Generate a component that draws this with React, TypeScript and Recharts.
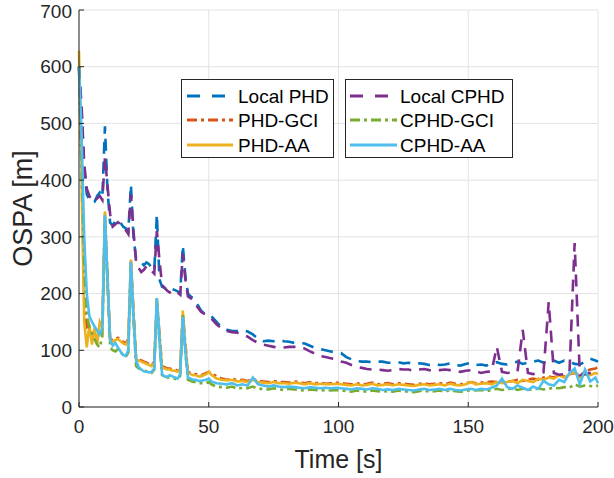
import React from 'react';
import { LineChart, Line, XAxis, YAxis, CartesianGrid } from 'recharts';

const time = [
  0, 1, 2, 3, 4, 5, 6, 7, 8, 9, 10, 11, 12, 13, 14, 15, 16, 17, 18, 19, 20, 21, 22, 23, 24, 25, 26, 27, 28, 29,
  30, 31, 32, 33, 34, 35, 36, 37, 38, 39, 40, 41, 42, 43, 44, 45, 46, 47, 48, 49, 50,
  51, 53, 55, 57, 59, 61, 63, 65, 67, 69, 71, 73, 75, 77, 79, 81, 83, 85, 87, 89, 91, 93, 95, 97, 99,
  101, 103, 105, 107, 109, 111, 113, 115, 117, 119, 121, 123, 125, 127, 129, 131, 133, 135, 137, 139,
  141, 143, 145, 147, 149, 151, 153, 155, 157, 159, 161, 163, 165, 167, 169, 171, 173, 175, 177, 179,
  181, 183, 185, 187, 189, 191, 193, 195, 197, 199, 200,
];

const localPHD = [
  600, 520, 420, 375, 365, 360, 362, 372, 378, 370, 495, 380, 325, 320, 328, 330, 325, 318, 315, 310,
  392, 300, 262, 258, 255, 250, 255, 252, 245, 240, 340, 225, 212, 210, 206, 205, 208, 206, 204, 200,
  285, 230, 200, 195, 192, 185, 178, 170, 166, 164, 160,
  160, 150, 140, 136, 134, 134, 136, 133, 128, 120, 116, 117, 116, 118, 116, 115, 113, 113, 112, 108,
  104, 102, 100, 98, 96, 95, 88, 84, 81, 80, 80, 79, 80, 80, 78, 78, 79, 77, 78, 76,
  77, 76, 74, 76, 74, 75, 77, 74, 73, 76, 78, 74, 75, 73, 77, 79, 76, 75, 78, 80,
  76, 78, 80, 82, 78, 80, 82, 78, 82, 80, 76, 75, 80, 85, 82, 80,
];

const phdGCI = [
  600, 420, 200, 140, 135, 125, 130, 120, 125, 150, 340, 230, 120, 118, 120, 122, 118, 115, 112, 120,
  258, 170, 88, 84, 82, 80, 78, 76, 74, 80, 190, 130, 72, 70, 68, 68, 66, 66, 64, 70,
  165, 110, 62, 60, 58, 58, 56, 56, 58, 60, 62,
  60, 54, 50, 48, 50, 47, 48, 46, 50, 46, 45, 44, 46, 44, 44, 43, 45, 44, 42, 44,
  42, 43, 41, 42, 43, 42, 41, 40, 42, 40, 41, 43, 40, 41, 42, 40, 42, 41, 40, 39,
  41, 42, 40, 41, 42, 40, 43, 41, 40, 42, 44, 42, 43, 44, 45, 44, 46, 44, 46, 48,
  46, 48, 50, 48, 52, 54, 52, 56, 54, 58, 60, 56, 62, 66, 68, 70,
];

const phdAA = [
  628, 400, 150, 105, 145, 110, 140, 110, 150, 140, 345, 220, 118, 115, 118, 120, 116, 112, 110, 118,
  260, 165, 85, 82, 80, 78, 76, 74, 72, 78, 192, 125, 70, 68, 66, 66, 64, 64, 62, 68,
  170, 105, 60, 58, 56, 56, 54, 54, 56, 58, 62,
  57, 50, 48, 47, 48, 45, 46, 44, 48, 44, 43, 42, 44, 42, 42, 41, 43, 42, 40, 42,
  40, 41, 40, 40, 41, 40, 39, 38, 40, 38, 39, 41, 38, 39, 40, 38, 40, 39, 38, 37,
  39, 40, 38, 39, 40, 38, 41, 39, 38, 40, 44, 40, 41, 42, 40, 44, 42, 44, 46, 42,
  48, 46, 44, 50, 48, 52, 50, 56, 52, 58, 62, 52, 58, 56, 60, 58,
];

const localCPHD = [
  600, 530, 430, 385, 372, 365, 362, 368, 372, 365, 440, 390, 340, 318, 322, 326, 322, 318, 312, 305,
  375, 310, 255, 245, 238, 242, 248, 246, 240, 235, 310, 260, 215, 210, 205, 202, 204, 206, 202, 198,
  270, 225, 195, 192, 188, 180, 174, 168, 165, 162, 158,
  156, 146, 138, 134, 132, 131, 128, 124, 118, 113, 110, 108, 106, 104, 105, 106, 106, 106, 103, 98,
  94, 90, 88, 86, 84, 80, 78, 74, 71, 69, 67, 66, 66, 65, 64, 65, 67, 66, 66, 64,
  66, 67, 65, 64, 65, 66, 65, 64, 62, 64, 65, 63, 60, 62, 63, 106, 62, 60, 61, 63,
  136, 60, 58, 60, 61, 185, 60, 57, 58, 60, 289, 56, 58, 60, 62, 60,
];

const cphdGCI = [
  600, 430, 250, 165, 140, 130, 120, 110, 105, 125, 335, 215, 105, 100, 98, 102, 96, 92, 88, 96,
  250, 155, 72, 68, 66, 64, 63, 62, 60, 66, 188, 115, 56, 54, 52, 52, 50, 50, 48, 55,
  162, 95, 48, 46, 44, 44, 42, 42, 42, 42, 44,
  40, 36, 35, 34, 36, 32, 34, 33, 36, 32, 32, 31, 33, 31, 30, 32, 31, 30, 29, 31,
  30, 29, 30, 29, 30, 29, 28, 27, 29, 28, 27, 29, 28, 27, 28, 27, 29, 28, 27, 26,
  28, 29, 27, 28, 29, 27, 30, 28, 27, 28, 30, 29, 30, 28, 30, 32, 30, 31, 33, 30,
  32, 31, 30, 33, 31, 32, 34, 33, 35, 34, 40, 36, 38, 37, 36, 38,
];

const cphdAA = [
  600, 480, 300, 200, 160, 150, 142, 135, 128, 140, 338, 225, 118, 108, 113, 105, 98, 92, 90, 100,
  256, 160, 82, 70, 66, 63, 62, 61, 62, 68, 192, 120, 58, 54, 53, 56, 54, 52, 50, 58,
  159, 98, 52, 50, 48, 48, 46, 46, 47, 48, 50,
  45, 42, 41, 40, 42, 38, 40, 38, 52, 40, 38, 36, 38, 36, 35, 36, 35, 34, 33, 35,
  34, 33, 34, 33, 34, 33, 32, 31, 33, 32, 31, 33, 32, 30, 31, 30, 32, 31, 30, 29,
  31, 32, 30, 31, 32, 30, 32, 30, 29, 31, 32, 30, 32, 31, 34, 38, 50, 35, 32, 38,
  34, 30, 36, 32, 46, 40, 38, 48, 44, 60, 68, 40, 66, 45, 52, 42,
];

const xTicks = [0, 50, 100, 150, 200];
const yTicks = [0, 100, 200, 300, 400, 500, 600, 700];

const series = [
  { key: 'localPHD', name: 'Local PHD', color: '#0072BD', dash: '12 8', values: localPHD },
  { key: 'phdGCI', name: 'PHD-GCI', color: '#D95319', dash: '10 4 3 4', values: phdGCI },
  { key: 'phdAA', name: 'PHD-AA', color: '#EDB120', dash: undefined, values: phdAA },
  { key: 'localCPHD', name: 'Local CPHD', color: '#7E2F8E', dash: '12 8', values: localCPHD },
  { key: 'cphdGCI', name: 'CPHD-GCI', color: '#77AC30', dash: '10 4 3 4', values: cphdGCI },
  { key: 'cphdAA', name: 'CPHD-AA', color: '#4DBEEE', dash: undefined, values: cphdAA },
];

const data = time.map((t, i) => {
  const row: Record<string, number> = { t };
  series.forEach((s) => {
    row[s.key] = s.values[i];
  });
  return row;
});

const FONT = '"Liberation Sans", Arial, Helvetica, sans-serif';
const INK = '#262626';

function LegendBox({ items, left, width, lineX1, lineX2, textX }: any) {
  const rows = [17, 41, 66];
  return (
    <svg
      width={width}
      height={79}
      style={{ position: 'absolute', left, top: 79 }}
    >
      <rect x={0.5} y={0.5} width={width - 1} height={78} fill="#ffffff" stroke={INK} strokeWidth={1} />
      {items.map((s: any, i: number) => (
        <g key={s.key}>
          <line
            x1={lineX1}
            x2={lineX2}
            y1={rows[i]}
            y2={rows[i]}
            stroke={s.color}
            strokeWidth={3}
            strokeDasharray={s.key.startsWith('local') ? '13 12' : s.dash}
          />
          <text x={textX} y={rows[i] + 7} fontSize={19} fontFamily={FONT} fill="#000000">
            {s.name}
          </text>
        </g>
      ))}
    </svg>
  );
}

export default function App() {
  return (
    <div
      style={{
        position: 'absolute',
        left: 0,
        top: 0,
        width: 614,
        height: 478,
        background: '#ffffff',
        fontFamily: FONT,
      }}
    >
      <LineChart width={614} height={478} data={data} margin={{ top: 10, right: 16, bottom: 0, left: 0 }}>
        <CartesianGrid stroke="#e3e3e3" strokeWidth={1} />
        <XAxis
          dataKey="t"
          type="number"
          domain={[0, 200]}
          ticks={xTicks}
          height={71}
          tickSize={-5}
          tickMargin={18}
          stroke={INK}
          tick={{ fill: INK, fontSize: 19, fontFamily: FONT }}
          label={{ value: 'Time [s]', position: 'insideBottom', offset: 10, fill: INK, fontSize: 25, fontFamily: FONT }}
        />
        <XAxis
          xAxisId="top"
          orientation="top"
          dataKey="t"
          type="number"
          domain={[0, 200]}
          ticks={xTicks}
          height={0}
          tick={false}
          stroke={INK}
        />
        <YAxis
          domain={[0, 700]}
          ticks={yTicks}
          width={79}
          tickSize={-5}
          tickMargin={12}
          stroke={INK}
          tick={{ fill: INK, fontSize: 19, fontFamily: FONT }}
          label={{
            value: 'OSPA [m]',
            angle: -90,
            position: 'insideLeft',
            offset: 22,
            fill: INK,
            fontSize: 27,
            fontFamily: FONT,
            style: { textAnchor: 'middle' },
          }}
        />
        <YAxis
          yAxisId="right"
          orientation="right"
          domain={[0, 700]}
          ticks={yTicks}
          width={0}
          tick={false}
          stroke={INK}
        />
        {series.map((s) => (
          <Line
            key={s.key}
            dataKey={s.key}
            name={s.name}
            type="linear"
            stroke={s.color}
            strokeWidth={2.6}
            strokeDasharray={s.dash}
            dot={false}
            activeDot={false}
            isAnimationActive={false}
          />
        ))}
      </LineChart>
      <LegendBox items={series.slice(0, 3)} left={181} width={153} lineX1={6} lineX2={52} textX={57} />
      <LegendBox items={series.slice(3, 6)} left={345} width={168} lineX1={5} lineX2={52} textX={55} />
    </div>
  );
}
